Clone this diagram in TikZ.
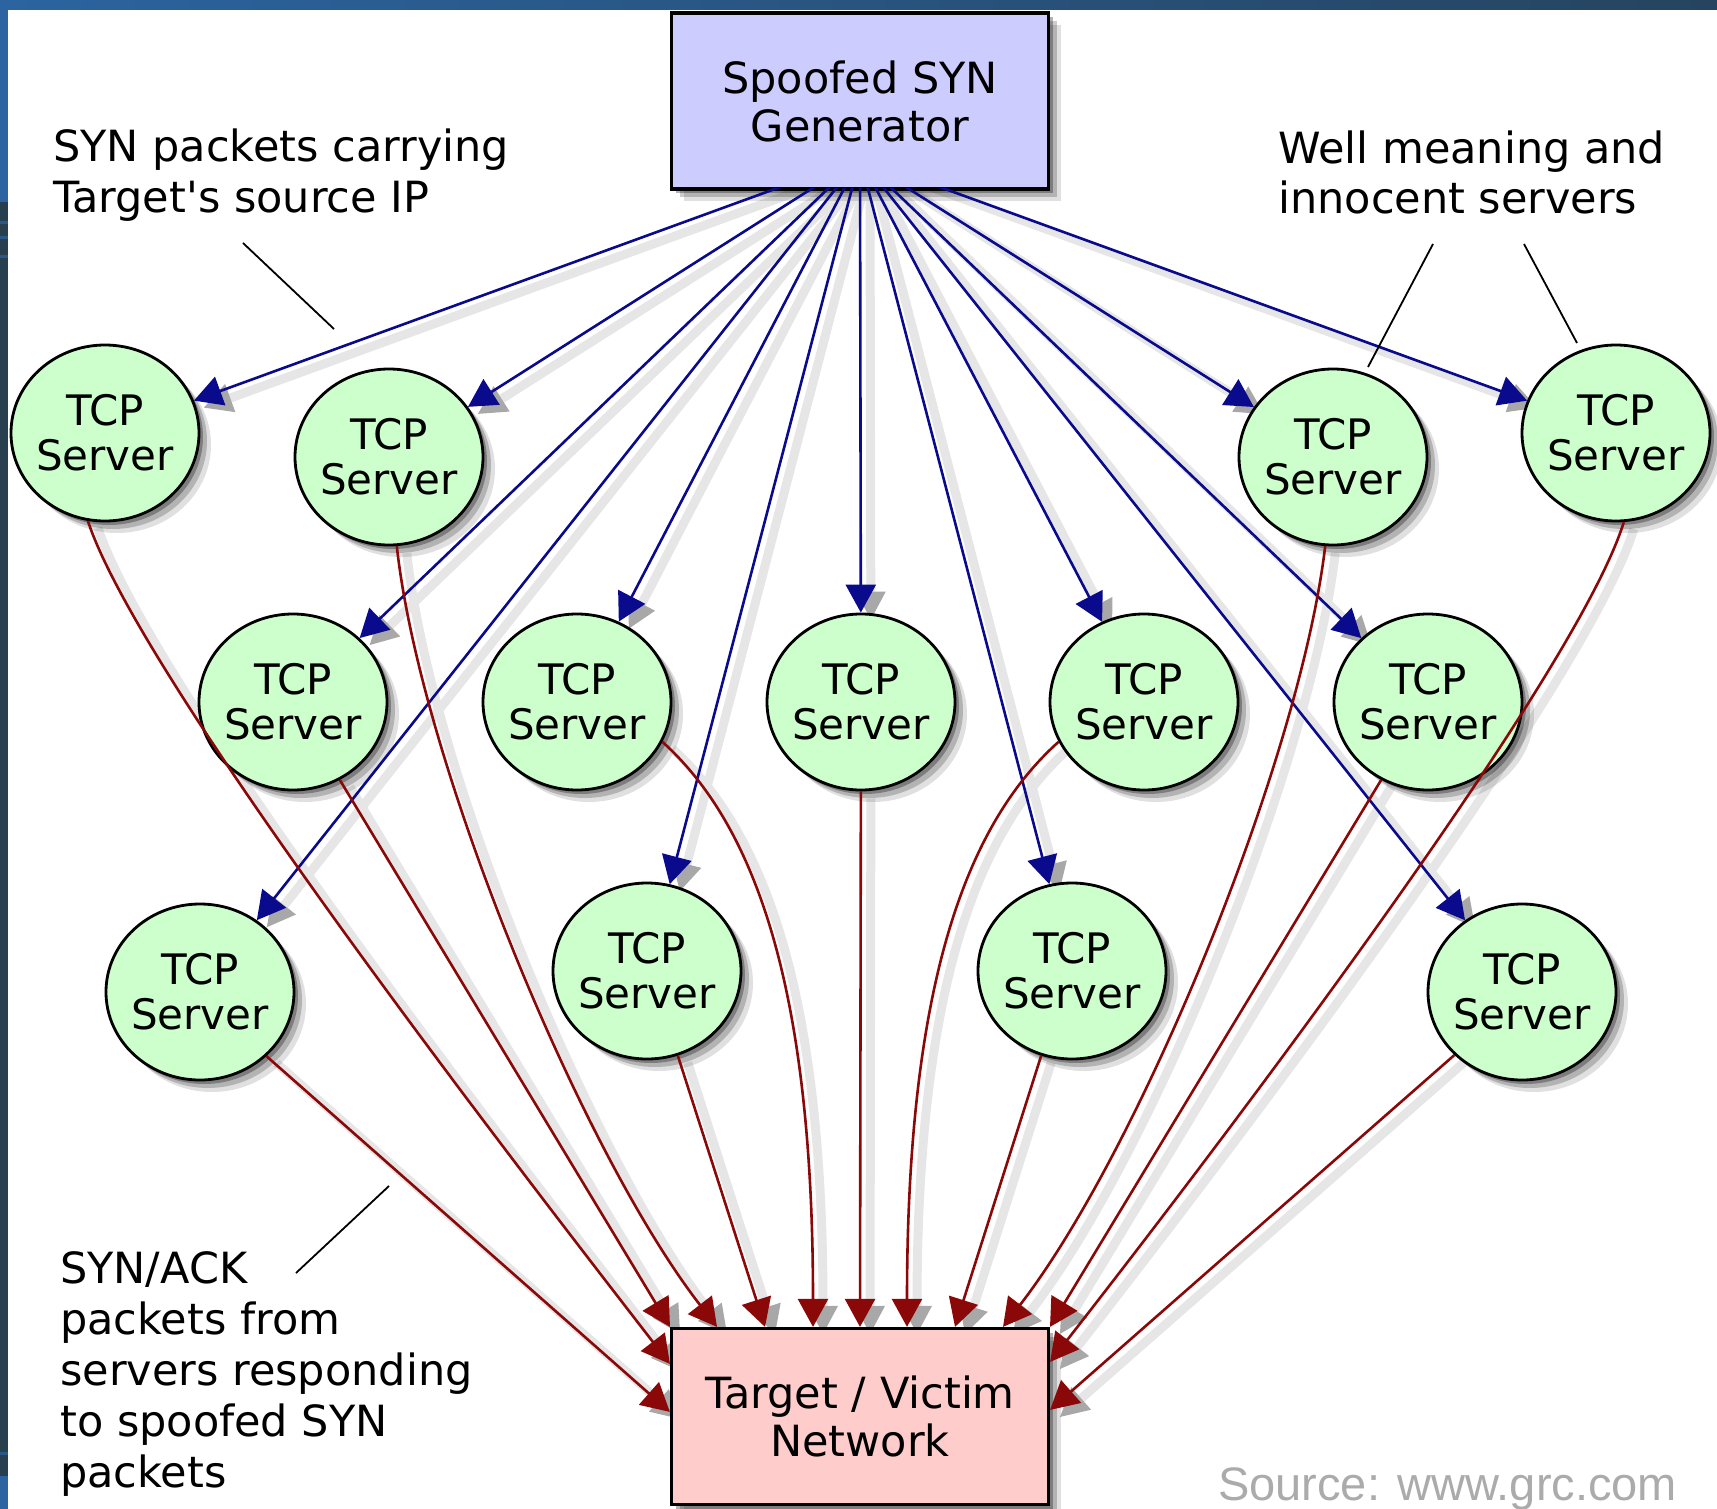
\documentclass[tikz,border=0pt]{standalone}
\usepackage{fontspec}
\setmainfont{DejaVu Sans}[Ligatures=TeXOff]
\newfontfamily\creditfont{Liberation Sans}
\usepackage{xcolor}
\definecolor{ink}{HTML}{000000}
\definecolor{syncol}{HTML}{0A0A8C}
\definecolor{ackcol}{HTML}{8A0808}
\definecolor{genfill}{HTML}{CCCCFF}
\definecolor{srvfill}{HTML}{CCFFCC}
\definecolor{tgtfill}{HTML}{FFCCCC}
\definecolor{frameblue}{HTML}{2B64A0}
\definecolor{framenavy}{HTML}{26445F}
\definecolor{stripnavy}{HTML}{283F4F}
\definecolor{edgeshade}{HTML}{E6E6E6}
\definecolor{tipshade}{HTML}{A8A8A8}
\definecolor{creditgray}{HTML}{ABABAB}
\usepackage{tikz}
\usetikzlibrary{arrows.meta, calc, shapes.geometric, shadows, backgrounds}
\tikzset{
  >={Triangle[length=28pt, width=30pt]},
  castshadow/.style={
    drop shadow={shadow xshift=4pt, shadow yshift=-4pt, fill=black, opacity=.3},
    drop shadow={shadow xshift=8pt, shadow yshift=-8pt, fill=black, opacity=.2},
    drop shadow={shadow xshift=12pt, shadow yshift=-12pt, fill=black, opacity=.12}},
  box/.style={draw=ink, line width=3.2pt, minimum width=377pt, minimum height=176pt, inner sep=0pt,
    align=center, font=\fontsize{43}{48}\selectfont, castshadow},
  gen/.style={box, fill=genfill},
  tgt/.style={box, fill=tgtfill},
  srv/.style={ellipse, draw=ink, line width=2.8pt, fill=srvfill, minimum width=188pt, minimum height=176pt,
    inner sep=-4pt, align=center, font=\fontsize{42}{45}\selectfont, castshadow},
  syn/.style={->, draw=syncol, line width=2.6pt},
  ack/.style={->, draw=ackcol, line width=2.6pt},
  ghost/.style={draw=edgeshade, line width=9pt, transform canvas={shift={(10pt,-7pt)}},
    -{Triangle[length=28pt, width=30pt, line width=0pt, color=tipshade]}},
  note/.style={anchor=base west, align=left, inner sep=0pt, font=\fontsize{43}{51}\selectfont},
  credit/.style={anchor=base west, inner sep=0pt, text=creditgray, font=\creditfont\fontsize{47}{47}\selectfont},
  pointer/.style={draw=ink, line width=1.8pt},
}

% The SYN/ACK replies, drawn once as shadows and once for real.
\newcommand\ackedges[1]{%
  \draw[#1] (r1a.-101) .. controls (140,680) and (520,1170) .. (w1);
  \draw[#1] (r2a.-59) -- (t1);
  \draw[#1] (r3a.-44) -- (w2);
  \draw[#1] (r1b.-85) .. controls (420,760) and (580,1150) .. (t2);
  \draw[#1] (r3b.-70) -- (t3);
  \draw[#1] (r2b.-25) .. controls (760,830) and (813,1000) .. (t4);
  \draw[#1] (r2c) -- (t5);
  \draw[#1] (r2d.-155) .. controls (960,830) and (907,1000) .. (t6);
  \draw[#1] (r3c.-110) -- (t7);
  \draw[#1] (r1c.-95) .. controls (1300,760) and (1140,1150) .. (t8);
  \draw[#1] (r2e.-121) -- (t9);
  \draw[#1] (r1d.-85) .. controls (1575,680) and (1200,1170) .. (e1);
  \draw[#1] (r3d.-137) -- (e2);
}

\begin{document}
\begin{tikzpicture}[x=1pt, y=-1pt]

  % The page, one unit to a pixel, and the frame round it.
  \useasboundingbox (0,0) rectangle (1717,1509);
  \shade[left color=frameblue, right color=framenavy] (0,0) rectangle (1717,10);
  \fill[frameblue] (0,0) rectangle (8,202);
  \fill[stripnavy] (0,202) rectangle (8,1476);
  \fill[frameblue] (0,1476) rectangle (8,1509);
  \foreach \y in {221,236,255,1452}
    \fill[frameblue!70!stripnavy] (0,\y) rectangle (8,\y+3);

  % Generator, the thirteen servers and the target.
  \node[gen] (gen) at (860,101) {Spoofed SYN\\Generator};
  \foreach \n/\x/\y in {r1a/105/433, r1b/389/457, r1c/1333/457, r1d/1616/433,
      r2a/293/702, r2b/577/702, r2c/861/702, r2d/1144/702, r2e/1428/702,
      r3a/200/992, r3b/647/971, r3c/1072/971, r3d/1522/992}
    \node[srv] (\n) at (\x,\y) {TCP\\Server};
  \node[tgt] (tgt) at (860,1416.5) {Target / Victim\\Network};

  % The SYN lines fan out from a point just inside the generator.
  \coordinate (hub) at (860,158);

  % Where the replies land on the target.
  \foreach \n/\dx in {t1/-190, t2/-143, t3/-95, t4/-47, t5/0, t6/47, t7/95, t8/143, t9/190}
    \coordinate (\n) at ($(tgt.north)+(\dx,0)$);
  \coordinate (w1) at ($(tgt.north west)+(0,37)$);
  \coordinate (w2) at ($(tgt.north west)+(0,85)$);
  \coordinate (e1) at ($(tgt.north east)+(0,35)$);
  \coordinate (e2) at ($(tgt.north east)+(0,83)$);

  % Shadows of all the edges, under everything else.
  \begin{scope}[on background layer]
    \clip (0,189) rectangle (1717,1509);
    \foreach \n in {r1a,r1b,r1c,r1d,r2a,r2b,r2c,r2d,r2e,r3a,r3b,r3c,r3d}
      \draw[ghost] (hub) -- (\n);
  \end{scope}
  \begin{scope}[on background layer]
    \ackedges{ghost}
  \end{scope}

  % The edges themselves.
  \begin{scope}
    \clip (0,189) rectangle (1717,1509);
    \foreach \n in {r1a,r1b,r1c,r1d,r2a,r2b,r2c,r2d,r2e,r3a,r3b,r3c,r3d}
      \draw[syn] (hub) -- (\n);
  \end{scope}
  \ackedges{ack}

  % Notes and their pointers (a note's base is its last line).
  \node[note] (synnote) at (53,212) {SYN packets carrying\\Target's source IP};
  \node[note] (wellnote) at (1278,214) {Well meaning and\\innocent servers};
  \node[note] (acknote) at (60,1487)
    {SYN/ACK\\packets from\\servers responding\\to spoofed SYN\\packets};
  \node[credit] (src) at (1218,1500) {Source: www.grc.com};

  \coordinate (p1a) at (243,243);  \coordinate (p1b) at (334,329);
  \coordinate (p2a) at (1433,244); \coordinate (p2b) at (1368,367);
  \coordinate (p3a) at (1524,244); \coordinate (p3b) at (1577,343);
  \coordinate (p4a) at (296,1273); \coordinate (p4b) at (389,1186);
  \draw[pointer] (p1a) -- (p1b);
  \draw[pointer] (p2a) -- (p2b);
  \draw[pointer] (p3a) -- (p3b);
  \draw[pointer] (p4a) -- (p4b);
\end{tikzpicture}
\end{document}
